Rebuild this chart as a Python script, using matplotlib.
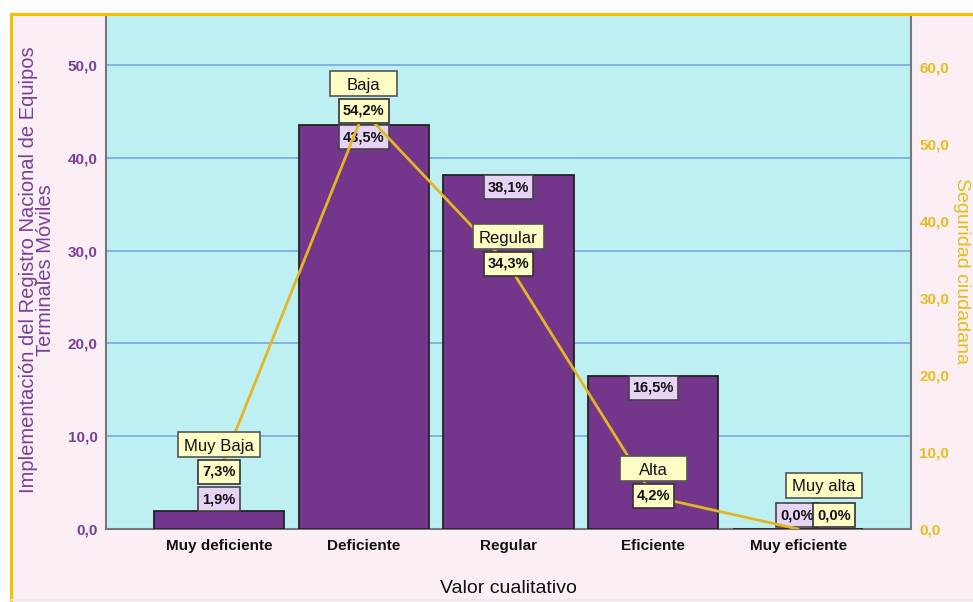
import matplotlib.pyplot as plt
from matplotlib.patches import Rectangle
from matplotlib.lines import Line2D
from matplotlib.transforms import IdentityTransform

plt.rcParams['font.family'] = ['Liberation Sans', 'DejaVu Sans']

categorias = ['Muy deficiente', 'Deficiente', 'Regular', 'Eficiente', 'Muy eficiente']
registro = [1.9, 43.5, 38.1, 16.5, 0.0]
seguridad = [7.3, 54.2, 34.3, 4.2, 0.0]
niveles_seg = ['Muy Baja', 'Baja', 'Regular', 'Alta', 'Muy alta']

left_ticks = [0, 10, 20, 30, 40, 50]
right_ticks = [0, 10, 20, 30, 40, 50, 60]

purple = '#74368a'
purple_txt = '#7a3f98'
gold = '#e2b722'
gold_txt = '#e6bd1c'
lilac = '#e7d3f6'
cream = '#fdfcc4'


def fmt(v):
    return f"{v:.1f}".replace('.', ',')


W, H = 973, 602
fig = plt.figure(figsize=(W / 100, H / 100), dpi=100, facecolor='white')
fig.patches.append(Rectangle((11 / W, 0), 1.0, 588 / H, transform=fig.transFigure,
                             facecolor='#fceef5', edgecolor='none', zorder=-10))

ax = fig.add_axes([106 / W, 73 / H, 805 / W, 515 / H])
ax.set_facecolor('#bef0f3')
x = list(range(len(categorias)))
ax.bar(x, registro, width=0.9, color=purple, edgecolor='#222222', linewidth=1.3, zorder=3)
ax.set_xlim(-0.78, 4.78)
ax.set_ylim(0, 55.5)
ax.set_yticks(left_ticks)
ax.set_yticklabels([fmt(t) for t in left_ticks])
ax.grid(axis='y', color='#6ea2e4', linewidth=1.1, zorder=0)
ax.set_xticks(x)
ax.set_xticklabels(categorias, fontweight='bold', fontsize=11, color='#111111')
ax.tick_params(axis='x', length=0, pad=7)
ax.tick_params(axis='y', length=0, pad=6, labelcolor=purple_txt, labelsize=11)
for t in ax.get_yticklabels():
    t.set_fontweight('bold')
for s in ['left', 'right', 'bottom']:
    ax.spines[s].set_color('#777777')
    ax.spines[s].set_linewidth(1.5)
ax.spines['top'].set_visible(False)

ax.set_xlabel('Valor cualitativo', fontsize=14, color='#111111')
ax.xaxis.set_label_coords(0.5, -0.099)

ax2 = ax.twinx()
ax2.set_ylim(0, 66.9)
ax2.set_yticks(right_ticks)
ax2.set_yticklabels([fmt(t) for t in right_ticks])
ax2.tick_params(axis='y', length=0, pad=6, labelcolor=gold_txt, labelsize=11)
for t in ax2.get_yticklabels():
    t.set_fontweight('bold')
for s in ['left', 'right', 'bottom', 'top']:
    ax2.spines[s].set_visible(False)
ax2.plot(x, seguridad, color=gold, linewidth=2, zorder=4)

# titulos de ejes (posicion fija en pixeles)
fig.text(37 / W, (H - 270) / H,
         'Implementación del Registro Nacional de Equipos\nTerminales Móviles',
         rotation=90, ha='center', va='center', multialignment='center',
         fontsize=14.5, color=purple_txt, linespacing=0.88)
fig.text(953 / W, (H - 271) / H, 'Seguridad ciudadana', rotation=270,
         ha='left', va='center', fontsize=14, color=gold_txt)

# marco exterior
fig.lines.append(Line2D([11 / W, 11 / W], [0, 588 / H], transform=fig.transFigure,
                        color='#f6c000', linewidth=2.2, zorder=20))
fig.lines.append(Line2D([11 / W, 1], [588 / H, 588 / H], transform=fig.transFigure,
                        color='#f6c000', linewidth=2.2, zorder=20))
fig.lines.append(Line2D([11 / W, 1], [2 / H, 2 / H], transform=fig.transFigure,
                        color='#e6e8f0', linewidth=1.2, zorder=20))

renderer = fig.canvas.get_renderer()
ident = IdentityTransform()


def caja(axis, i, v, dx, dy, texto, fc, ec, size, weight, min_w, h, pad, z, ty=0.0):
    px, py = axis.transData.transform((i, v))
    cx, cy = px + dx, py + dy
    t = axis.text(cx, cy - ty, texto, transform=ident, ha='center', va='center',
                  fontsize=size, fontweight=weight, color='#111111', zorder=z + 0.5)
    w = max(min_w, t.get_window_extent(renderer).width + 2 * pad)
    axis.add_artist(Rectangle((cx - w / 2, cy - h / 2), w, h, transform=ident,
                              facecolor=fc, edgecolor=ec, linewidth=1.2, zorder=z))


# etiquetas de barras (debajo de la linea)
for i, v in enumerate(registro):
    if v > 10:
        dx, dy = 0, -12
    elif v > 0:
        dx, dy = 0, 12
    else:
        dx, dy = -1, 14
    caja(ax2, i, v * 66.9 / 55.5, dx, dy, fmt(v) + '%', lilac, '#444444',
         10.5, 'bold', 0, 24, 4, 2)

# etiquetas de la linea (encima de la linea)
for i, (v, nombre) in enumerate(zip(seguridad, niveles_seg)):
    if v > 0:
        vx, vy = 0, 1
        nx, ny = 0, 28
    else:
        vx, vy = 36, 14
        nx, ny = 26, 44
    caja(ax2, i, v, vx, vy, fmt(v) + '%', cream, '#333333', 10.5, 'bold', 0, 24, 4, 7)
    caja(ax2, i, v, nx, ny, nombre, cream, '#555555', 12, 'normal', 67, 25, 6, 7, ty=2)

fig.savefig('out.png', dpi=100, facecolor=fig.get_facecolor())
